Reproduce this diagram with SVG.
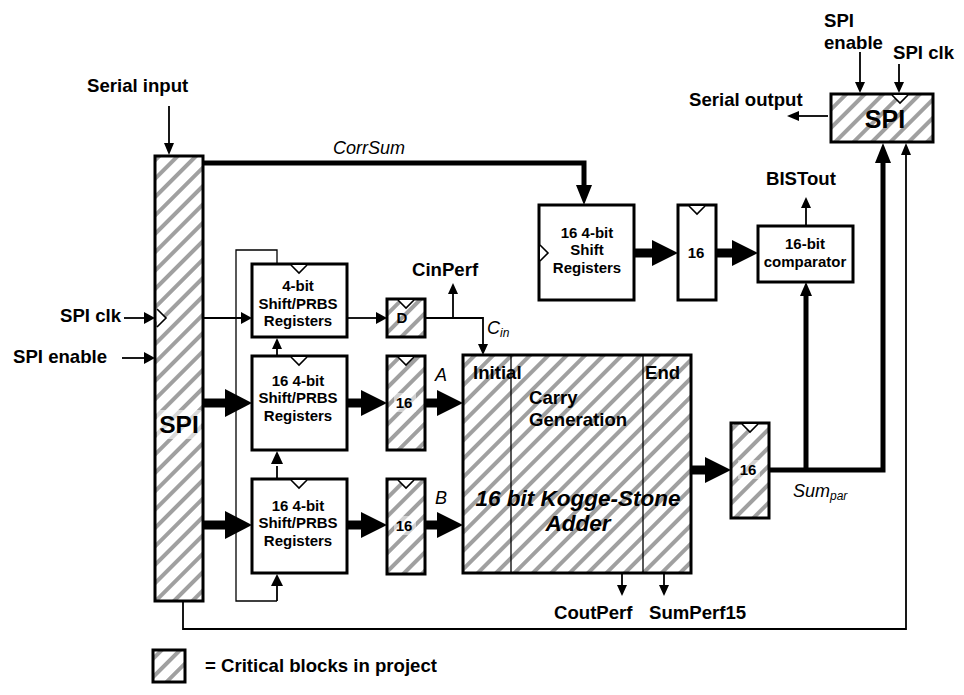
<svg xmlns="http://www.w3.org/2000/svg" width="964" height="695" viewBox="0 0 964 695">
<style>
text{font-family:"Liberation Sans",Arial,sans-serif;font-weight:bold;font-size:18.6px;fill:#000}
.m{text-anchor:middle}
.s{font-size:15px}
.i{font-style:italic;font-weight:normal;font-size:18px}
.box{fill:#fff;stroke:#000;stroke-width:3}
.hb{fill:url(#h);stroke:#000;stroke-width:3}
.clk{fill:#fff;stroke:#000;stroke-width:1.6}
.t{fill:none;stroke:#000;stroke-width:1.8}
.n{fill:none;stroke:#000;stroke-width:1.3}
.k{fill:none;stroke:#000;stroke-width:5}
.w{fill:none;stroke:#000;stroke-width:9}
.a{fill:#000}
</style>
<defs>
<pattern id="h" patternUnits="userSpaceOnUse" width="13" height="13" patternTransform="rotate(45)">
<rect width="13" height="13" fill="#fff"/><rect x="0" y="0" width="4" height="13" fill="#a0a0a0"/>
</pattern>
</defs>
<g id="connectors">
<path class="t" d="M169 106V145"/><path class="a" d="M169 155l-5-12h10z"/>
<path class="k" d="M203 163H584V186"/><path class="a" d="M584 205l-8-20h16z"/>
<path class="t" d="M124 318H144"/><path class="a" d="M155 318l-11-6v12z"/>
<path class="t" d="M122 358H144"/><path class="a" d="M155 358l-11-6v12z"/>
<path class="t" d="M204 318H241"/><path class="a" d="M252 318l-11-6v12z"/>
<path class="w" d="M204 403H225"/><path class="a" d="M252 403l-27-14v28z"/>
<path class="w" d="M204 525H225"/><path class="a" d="M252 525l-27-14v28z"/>
<path class="n" d="M277 264V250H236V601H277"/>
<path class="t" d="M277 601V586"/><path class="a" d="M277 574l-6 12h12z"/>
<path class="t" d="M277 479V466"/><path class="a" d="M277 451l-6 13h12z"/>
<path class="t" d="M277 356V349"/><path class="a" d="M277 338l-5 11h10z"/>
<path class="t" d="M347 318H376"/><path class="a" d="M387 318l-11-6v12z"/>
<path class="t" d="M425 318H483V345"/><path class="a" d="M483 355l-5-11h10z"/>
<path class="t" d="M453 318V293"/><path class="a" d="M453 283l-5 11h10z"/>
<path class="w" d="M347 403H362"/><path class="a" d="M387 403l-26-13v26z"/>
<path class="w" d="M347 525H362"/><path class="a" d="M387 525l-26-13v26z"/>
<path class="w" d="M425 403H437"/><path class="a" d="M463 403l-26-13v26z"/>
<path class="w" d="M425 525H437"/><path class="a" d="M463 525l-26-13v26z"/>
<path class="t" d="M622 574V586"/><path class="a" d="M622 596l-5-11h10z"/>
<path class="t" d="M664 574V586"/><path class="a" d="M664 596l-5-11h10z"/>
<path class="w" d="M691 470H705"/><path class="a" d="M731 470l-26-13v26z"/>
<path class="k" d="M769 470H883V160"/><path class="a" d="M883 143l-8 20h16z"/>
<path class="k" d="M806 470V295"/><path class="a" d="M806 282l-6 14h12z"/>
<path class="t" d="M183 601V629H906V155"/><path class="a" d="M906 143l-5 12h10z"/>
<path class="w" d="M634 253H653"/><path class="a" d="M678 253l-26-13v26z"/>
<path class="w" d="M716 253H733"/><path class="a" d="M758 253l-26-13v26z"/>
<path class="t" d="M806 226V208"/><path class="a" d="M806 197l-5 11h10z"/>
<path class="t" d="M860 52V84"/><path class="a" d="M860 93l-5-11h10z"/>
<path class="t" d="M899 64V84"/><path class="a" d="M899 93l-5-11h10z"/>
<path class="t" d="M828 116H798"/><path class="a" d="M787 116l12-5v10z"/>
</g>
<g id="spi-left"><rect class="hb" x="155" y="156" width="48" height="445"/><path class="clk" d="M157 309l9 9-9 9"/><rect x="157" y="410" width="44" height="29" fill="#fff" opacity=".6"/><text class="m" x="179" y="433" style="font-size:24.5px">SPI</text></g>
<g id="reg-4bit"><rect class="box" x="252" y="264" width="95" height="73"/><path class="clk" d="M291 265l8 8 8-8"/><text class="m s" x="298" y="291">4-bit</text><text class="m s" x="298" y="309">Shift/PRBS</text><text class="m s" x="298" y="326">Registers</text></g>
<g id="reg-a"><rect class="box" x="252" y="356" width="95" height="94"/><path class="clk" d="M291 357l8 8 8-8"/><text class="m s" x="298" y="386">16 4-bit</text><text class="m s" x="298" y="403">Shift/PRBS</text><text class="m s" x="298" y="421">Registers</text></g>
<g id="reg-b"><rect class="box" x="252" y="479" width="95" height="94"/><path class="clk" d="M291 480l8 8 8-8"/><text class="m s" x="298" y="511">16 4-bit</text><text class="m s" x="298" y="528">Shift/PRBS</text><text class="m s" x="298" y="546">Registers</text></g>
<g id="d-ff"><rect class="hb" x="387" y="299" width="38" height="38"/><path class="clk" d="M398 300l8 8 8-8"/><text class="m s" x="402" y="323">D</text></g>
<g id="pipe-a"><rect class="hb" x="387" y="356" width="38" height="94"/><path class="clk" d="M398 357l8 8 8-8"/><rect x="394" y="393" width="22" height="19" fill="#fff" opacity=".5"/><text class="m s" x="404" y="408">16</text></g>
<g id="pipe-b"><rect class="hb" x="387" y="479" width="38" height="95"/><path class="clk" d="M398 480l8 8 8-8"/><rect x="394" y="516" width="22" height="19" fill="#fff" opacity=".5"/><text class="m s" x="404" y="531">16</text></g>
<g id="adder"><rect class="hb" x="463" y="355" width="228" height="218"/><path class="n" d="M511 355V573M643 355V573"/>
<text x="473" y="379">Initial</text><text x="645" y="379">End</text><text x="529" y="404">Carry</text><text x="529" y="426">Generation</text>
<text class="m" x="578" y="506" style="font-size:22.5px;font-style:italic">16 bit Kogge-Stone</text><text class="m" x="578" y="531" style="font-size:22.5px;font-style:italic">Adder</text></g>
<g id="pipe-sum"><rect class="hb" x="731" y="423" width="38" height="95"/><path class="clk" d="M742 424l8 8 8-8"/><rect x="738" y="460" width="22" height="19" fill="#fff" opacity=".5"/><text class="m s" x="748" y="475">16</text></g>
<g id="reg-corr"><rect class="box" x="539" y="205" width="95" height="95"/><path class="clk" d="M540 245l8 8-8 8"/><text class="m s" x="587" y="238">16 4-bit</text><text class="m s" x="587" y="255">Shift</text><text class="m s" x="587" y="273">Registers</text></g>
<g id="pipe-corr"><rect class="box" x="678" y="205" width="38" height="95"/><path class="clk" d="M689 206l8 8 8-8"/><text class="m s" x="696" y="258">16</text></g>
<g id="comparator"><rect class="box" x="758" y="226" width="95" height="56"/><text class="m s" x="805" y="249">16-bit</text><text class="m s" x="805" y="267">comparator</text></g>
<g id="spi-right"><rect class="hb" x="831" y="94" width="102" height="48"/><path class="clk" d="M892 95l8 8 8-8"/><text class="m" x="885" y="128" style="font-size:25px">SPI</text></g>
<g id="legend"><rect class="hb" x="153" y="650" width="32" height="32"/><text x="205" y="672">= Critical blocks in project</text></g>
<g id="labels">
<text x="87" y="92">Serial input</text>
<text x="60" y="322">SPI clk</text>
<text x="13" y="363">SPI enable</text>
<text x="412" y="276">CinPerf</text>
<text x="689" y="106">Serial output</text>
<text x="824" y="27">SPI</text><text x="824" y="49">enable</text>
<text x="893" y="59">SPI clk</text>
<text x="766" y="185">BISTout</text>
<text x="554" y="619">CoutPerf</text>
<text x="649" y="619">SumPerf15</text>
<text class="i" x="333" y="154">CorrSum</text>
<text class="i" x="487" y="334">C<tspan font-size="12" dy="3">in</tspan></text>
<text class="i" x="435" y="381">A</text>
<text class="i" x="435" y="504">B</text>
<text class="i" x="793" y="497">Sum<tspan font-size="12" dy="3">par</tspan></text>
</g>
</svg>
